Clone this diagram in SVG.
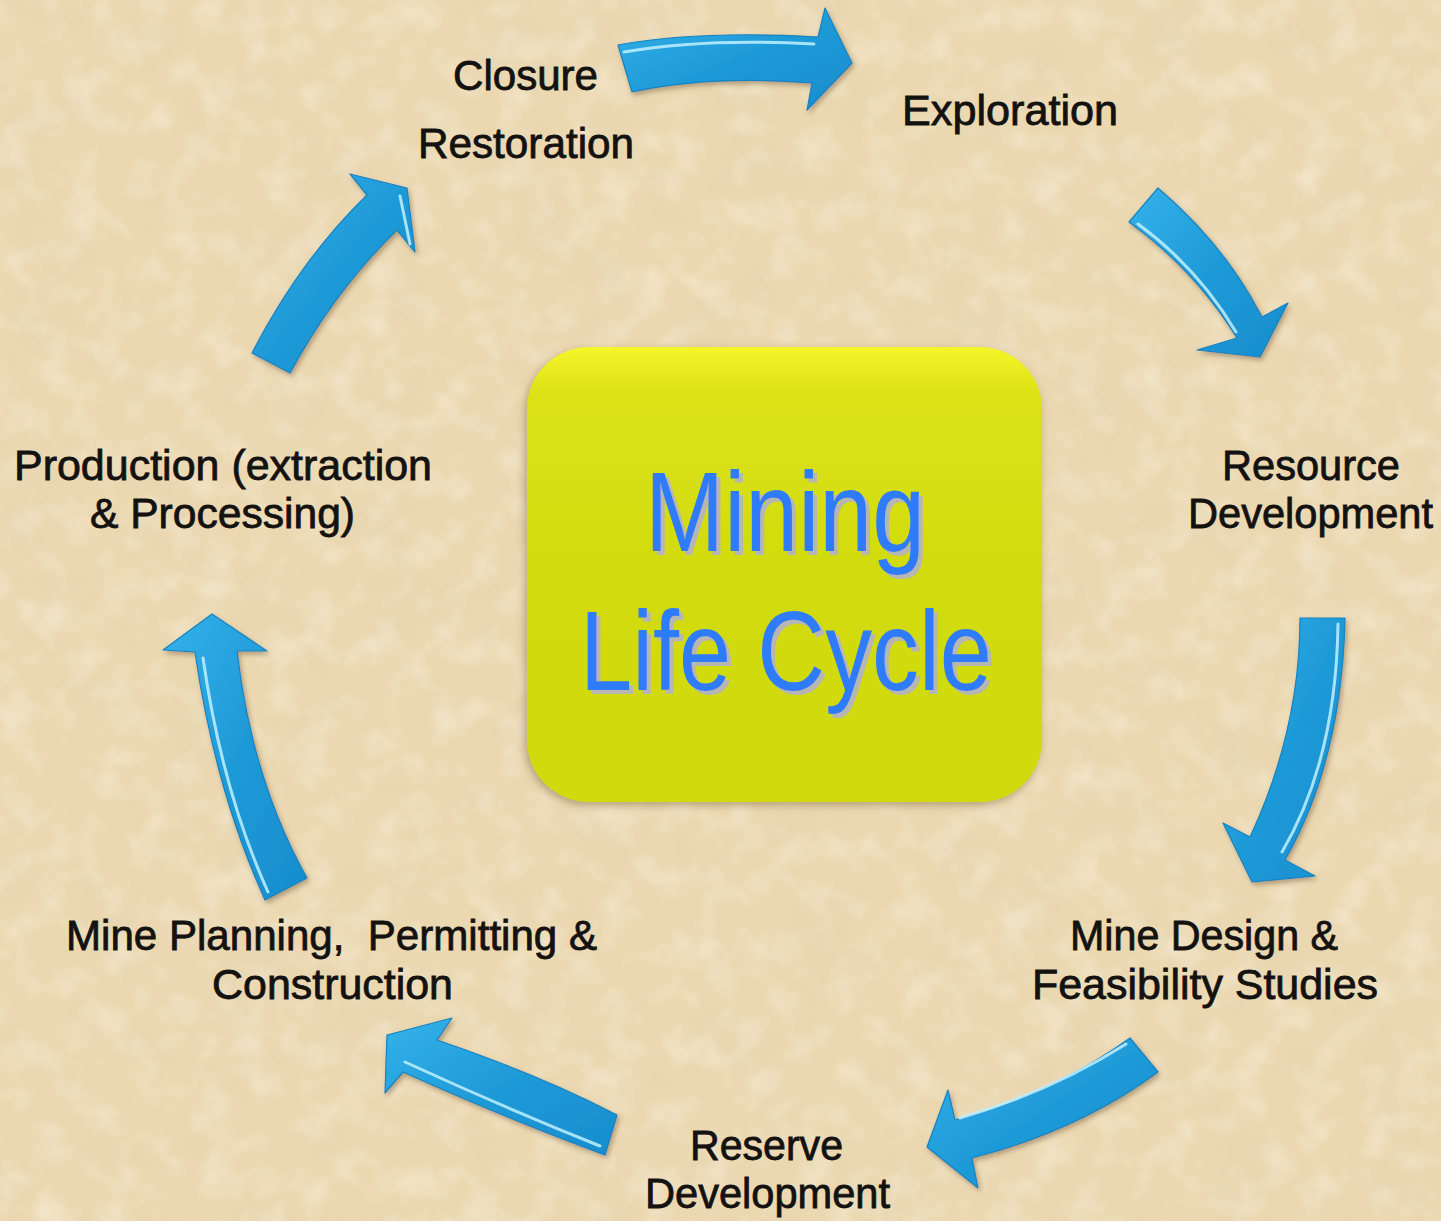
<svg xmlns="http://www.w3.org/2000/svg" width="1441" height="1221" viewBox="0 0 1441 1221">
<defs>
<style>
.lbl{font-family:"Liberation Sans",Arial,sans-serif;font-size:42px;fill:#141210;stroke:#141210;stroke-width:0.8}
.big{font-family:"Liberation Sans",Arial,sans-serif;font-size:114px;fill:#2f7cfa;filter:url(#textshadow)}
.arrow{fill:url(#blue);stroke:#1583c2;stroke-width:1.2;stroke-linejoin:round;filter:url(#shadow)}
.hl{fill:none;stroke:#bff0ff;stroke-width:3;stroke-linecap:round;opacity:0.85}
</style>
<linearGradient id="blue" x1="0" y1="0" x2="1" y2="1">
<stop offset="0" stop-color="#34b2ea"/>
<stop offset="0.5" stop-color="#1f9ad8"/>
<stop offset="1" stop-color="#178dcd"/>
</linearGradient>
<linearGradient id="box" x1="0" y1="0" x2="0" y2="1">
<stop offset="0" stop-color="#f6f62a"/>
<stop offset="0.1" stop-color="#dce214"/>
<stop offset="0.5" stop-color="#d1db10"/>
<stop offset="1" stop-color="#d0da0c"/>
</linearGradient>
<filter id="shadow" x="-20%" y="-20%" width="140%" height="140%">
<feDropShadow dx="2" dy="3" stdDeviation="2.5" flood-color="#6a5530" flood-opacity="0.45"/>
</filter>
<filter id="boxshadow" x="-10%" y="-10%" width="120%" height="120%">
<feDropShadow dx="-2" dy="3" stdDeviation="4" flood-color="#7a6238" flood-opacity="0.5"/>
</filter>
<filter id="textshadow" x="-5%" y="-5%" width="115%" height="120%">
<feOffset in="SourceAlpha" dx="4" dy="4" result="off"/>
<feFlood flood-color="#b6b6b2"/>
<feComposite in2="off" operator="in" result="sh"/>
<feMerge><feMergeNode in="sh"/><feMergeNode in="SourceGraphic"/></feMerge>
</filter>
<filter id="paper" x="0" y="0" width="100%" height="100%">
<feTurbulence type="fractalNoise" baseFrequency="0.014" numOctaves="5" seed="7"/>
<feColorMatrix type="matrix" values="0 0 0 0 0.78  0 0 0 0 0.66  0 0 0 0 0.45  2.0 0 0 0 -0.85"/>
</filter>
<filter id="paper2" x="0" y="0" width="100%" height="100%">
<feTurbulence type="fractalNoise" baseFrequency="0.03" numOctaves="3" seed="21"/>
<feColorMatrix type="matrix" values="0 0 0 0 0.97  0 0 0 0 0.92  0 0 0 0 0.80  2.0 0 0 0 -0.9"/>
</filter>
</defs>

<g id="background">
<rect x="0" y="0" width="1441" height="1221" fill="#ebd8b1"/>
<rect x="0" y="0" width="1441" height="1221" filter="url(#paper)" opacity="0.5"/>
<rect x="0" y="0" width="1441" height="1221" filter="url(#paper2)" opacity="0.45"/>
</g>

<g id="center">
<rect x="527" y="347" width="515" height="455" rx="62" ry="62" fill="url(#box)" filter="url(#boxshadow)"/>
<text class="big" x="645" y="551" textLength="280" lengthAdjust="spacingAndGlyphs">Mining</text>
<text class="big" x="580" y="690" textLength="412" lengthAdjust="spacingAndGlyphs">Life Cycle</text>
</g>

<g id="connectors">
<path class="arrow" d="M618,45 Q700,30 818,37 L825,8 L852,63 L807,110 L812,83 Q710,75 632,92 Z"/>
<path class="hl" d="M624,52 Q705,38 814,44"/>
<path class="arrow" d="M1158,188 Q1225,245 1262,317 L1288,303 L1260,357 L1197,350 L1237,338 Q1195,270 1129,222 Z"/>
<path class="hl" d="M1138,224 Q1198,268 1236,332"/>
<path class="arrow" d="M1300,618 L1345,618 Q1342,760 1285,860 L1315,876 L1252,882 L1223,823 L1250,837 Q1300,730 1300,618 Z"/>
<path class="hl" d="M1338,624 Q1336,760 1282,852"/>
<path class="arrow" d="M1130,1038 L1158,1072 Q1080,1130 972,1158 L978,1188 L927,1147 L948,1090 L955,1120 Q1050,1095 1130,1038 Z"/>
<path class="hl" d="M960,1118 Q1050,1092 1126,1044"/>
<path class="arrow" d="M617,1115 L605,1155 Q510,1120 403,1072 L385,1093 L387,1035 L452,1018 L437,1040 Q540,1075 617,1115 Z"/>
<path class="hl" d="M405,1062 Q505,1108 600,1146"/>
<path class="arrow" d="M265,900 Q215,790 195,652 L163,650 L212,614 L267,651 L237,651 Q252,780 307,878 Z"/>
<path class="hl" d="M203,658 Q222,790 268,892"/>
<path class="arrow" d="M252,353 Q300,260 367,195 L350,174 L407,188 L415,252 L397,230 Q335,290 290,373 Z"/>
<path class="hl" d="M400,196 L410,244"/>
</g>

<g id="closure">
<text class="lbl" x="453" y="90" textLength="145" lengthAdjust="spacingAndGlyphs">Closure</text>
<text class="lbl" x="418" y="158" textLength="216" lengthAdjust="spacingAndGlyphs">Restoration</text>
</g>
<g id="exploration">
<text class="lbl" x="902" y="125" textLength="216" lengthAdjust="spacingAndGlyphs">Exploration</text>
</g>
<g id="resource-development">
<text class="lbl" x="1222" y="480" textLength="178" lengthAdjust="spacingAndGlyphs">Resource</text>
<text class="lbl" x="1188" y="528" textLength="245" lengthAdjust="spacingAndGlyphs">Development</text>
</g>
<g id="mine-design">
<text class="lbl" x="1070" y="950" textLength="268" lengthAdjust="spacingAndGlyphs">Mine Design &amp;</text>
<text class="lbl" x="1032" y="999" textLength="346" lengthAdjust="spacingAndGlyphs">Feasibility Studies</text>
</g>
<g id="reserve-development">
<text class="lbl" x="690" y="1160" textLength="153" lengthAdjust="spacingAndGlyphs">Reserve</text>
<text class="lbl" x="645" y="1208" textLength="245" lengthAdjust="spacingAndGlyphs">Development</text>
</g>
<g id="mine-planning">
<text class="lbl" x="66" y="950" textLength="531" lengthAdjust="spacingAndGlyphs" xml:space="preserve">Mine Planning,  Permitting &amp;</text>
<text class="lbl" x="212" y="999" textLength="241" lengthAdjust="spacingAndGlyphs">Construction</text>
</g>
<g id="production">
<text class="lbl" x="14" y="480" textLength="418" lengthAdjust="spacingAndGlyphs">Production (extraction</text>
<text class="lbl" x="90" y="528" textLength="265" lengthAdjust="spacingAndGlyphs">&amp; Processing)</text>
</g>
</svg>
